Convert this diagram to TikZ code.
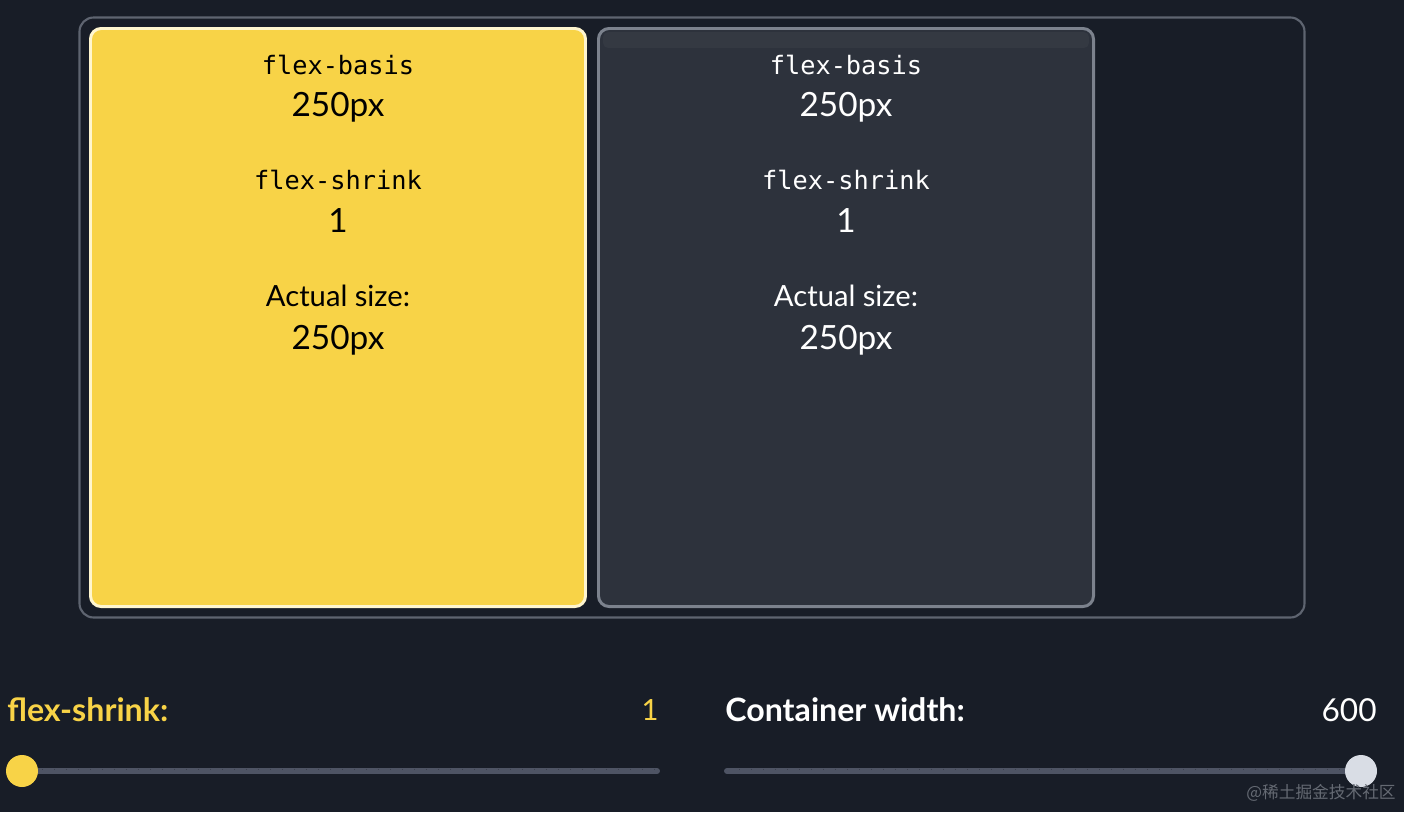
\documentclass[tikz,border=0pt]{standalone}
\usepackage{fontspec}
\setmainfont{Lato}
\setmonofont{DejaVu Sans Mono}
\newfontfamily\cjk{Noto Sans CJK SC}
\definecolor{pagebg}{HTML}{181D27}
\definecolor{frameline}{HTML}{5E6470}
\definecolor{itemyellow}{HTML}{F8D347}
\definecolor{itemedge}{HTML}{FFF6CF}
\definecolor{itemdark}{HTML}{2D323C}
\definecolor{darkedge}{HTML}{7C828D}
\definecolor{trackgray}{HTML}{4E5464}
\definecolor{thumbgray}{HTML}{D9DDE5}
\definecolor{markgray}{HTML}{656A73}

\begin{document}
\begin{tikzpicture}[x=0.02cm,y=-0.02cm]
	\tikzstyle{every node}+=[inner sep=0pt]
	\tikzstyle{monolabel}=[font=\ttfamily\fontsize{14.4}{16}\selectfont]
	\tikzstyle{biglabel}=[font=\fontsize{19}{22}\selectfont]
	\tikzstyle{midlabel}=[font=\fontsize{16.6}{19}\selectfont]
	\tikzstyle{ctrllabel}=[font=\bfseries\fontsize{18.3}{21}\selectfont]
	\tikzstyle{track}=[line width=3.4pt, line cap=round, trackgray]
	% background and frame
	\fill [pagebg] (0,0) rectangle (1404,812);
	\useasboundingbox (0,0) rectangle (1404,812);
	\draw [frameline, line width=1.2pt, rounded corners=8] (79.5,17.5) rectangle (1304.5,617.5);
	% the two items
	\draw [itemedge, fill=itemyellow, line width=1.7pt, rounded corners=6] (90.5,28.5) rectangle (585.5,606.5);
	\draw [darkedge, fill=itemdark, line width=1.7pt, rounded corners=6] (598.5,28.5) rectangle (1093.5,606.5);
	\fill [white, opacity=0.035, rounded corners=3] (603,32) rectangle (1089,48);
	% texts in the yellow item
	\node [monolabel, black] (basisA) at (338,65) {flex-basis};
	\node [biglabel, black] (basisvalA) at (338,107) {250px};
	\node [monolabel, black] (shrinkA) at (338,180) {flex-shrink};
	\node [biglabel, black] (shrinkvalA) at (338,221) {1};
	\node [midlabel, black] (actualA) at (338,296) {Actual size:};
	\node [biglabel, black] (actualvalA) at (338,340) {250px};
	% texts in the dark item
	\node [monolabel, white] (basisB) at (846,65) {flex-basis};
	\node [biglabel, white] (basisvalB) at (846,107) {250px};
	\node [monolabel, white] (shrinkB) at (846,180) {flex-shrink};
	\node [biglabel, white] (shrinkvalB) at (846,221) {1};
	\node [midlabel, white] (actualB) at (846,296) {Actual size:};
	\node [biglabel, white] (actualvalB) at (846,340) {250px};
	% controls
	\node [ctrllabel, itemyellow, anchor=west] (shrinkctl) at (7,710) {flex-shrink:};
	\node [midlabel, itemyellow, anchor=east] (shrinkctlval) at (659,710) {1};
	\node [ctrllabel, white, anchor=west] (widthctl) at (725,710) {Container width:};
	\node [midlabel, white, anchor=east, font=\fontsize{18}{21}\selectfont] (widthctlval) at (1377,710) {600};
	% slider tracks
	\draw [track] (30,771) -- (657,771);
	\draw [track] (727,771) -- (1358,771);
	\foreach \t in {42,54,...,654} \draw [pagebg, opacity=0.35, line width=0.4pt] (\t,768.5) -- (\t,770);
	\foreach \t in {739,751,...,1350} \draw [pagebg, opacity=0.35, line width=0.4pt] (\t,768.5) -- (\t,770);
	\fill [itemyellow] (22,771) circle (16);
	\fill [thumbgray] (1361,771) circle (16);
	% watermark
	\node [markgray, anchor=east, font=\cjk\fontsize{9.5}{11}\selectfont] (mark) at (1396,793) {@稀土掘金技术社区};
\end{tikzpicture}
\end{document}
